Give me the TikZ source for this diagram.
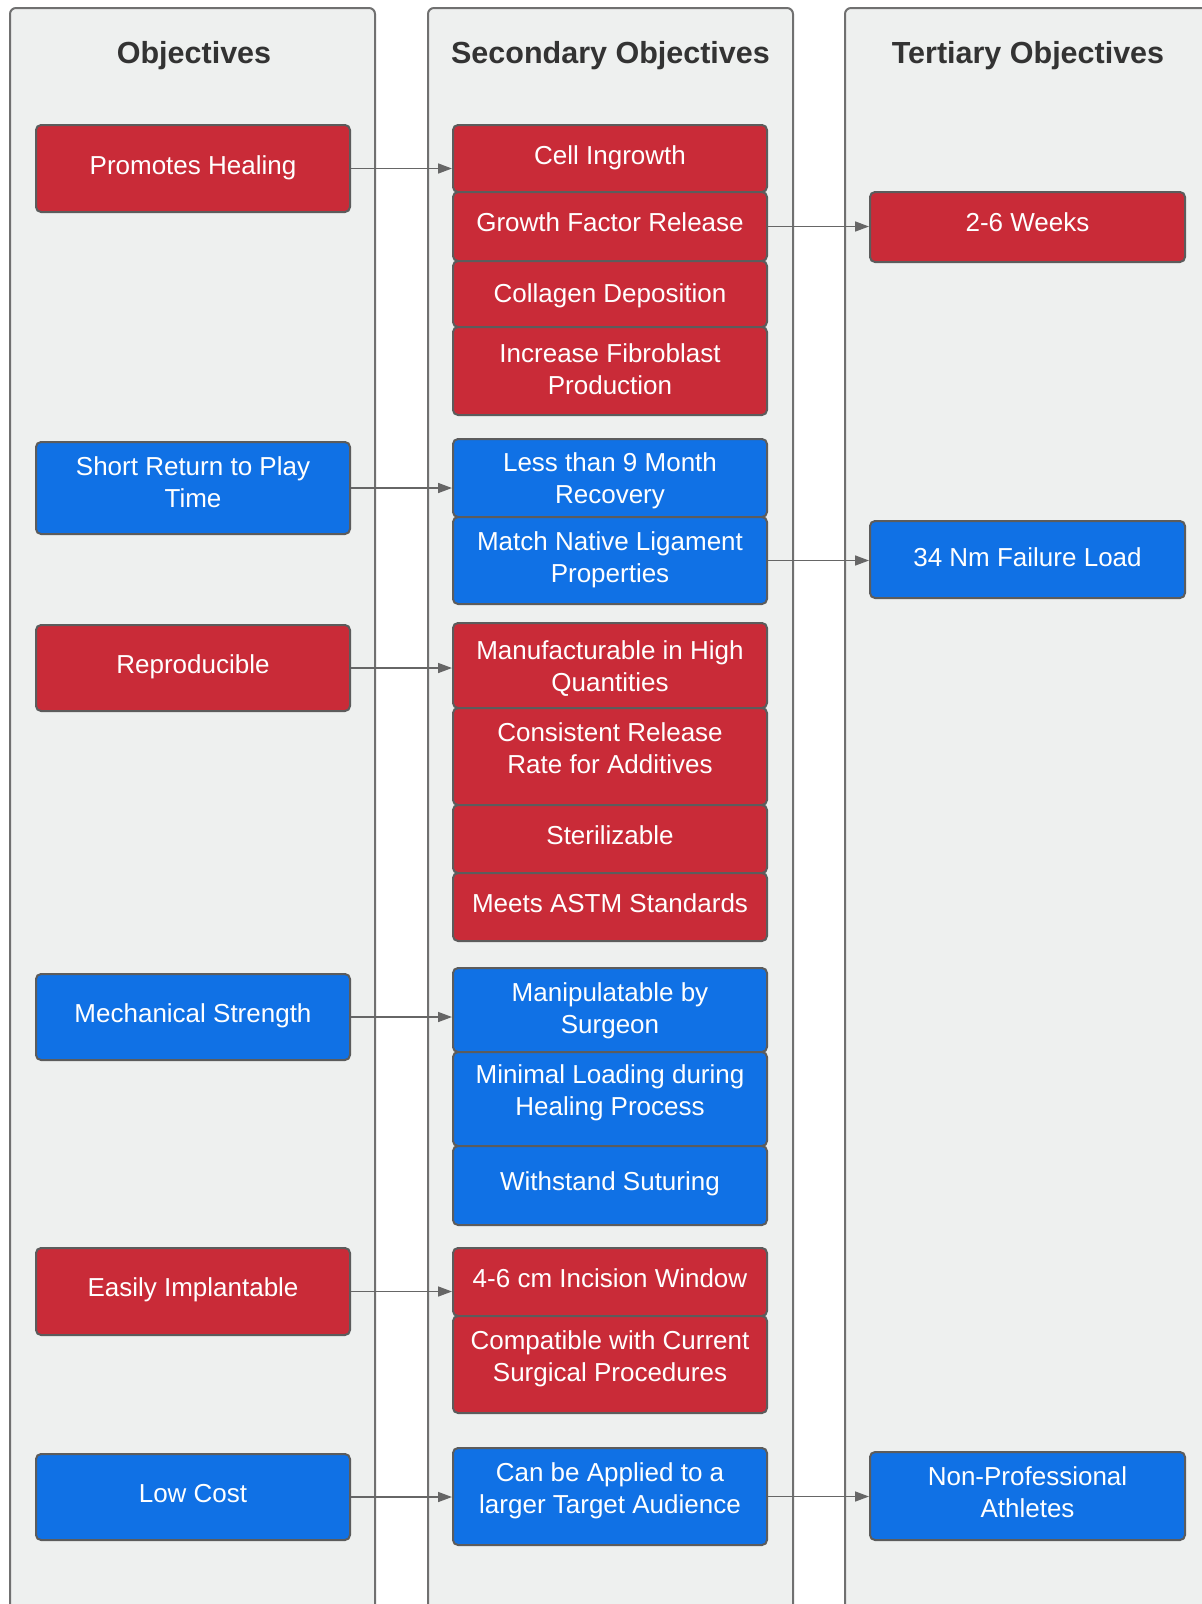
\documentclass[tikz,border=0pt]{standalone}
\usepackage{fontspec}
\setmainfont{Liberation Sans}
\usetikzlibrary{arrows.meta}
\definecolor{boxred}{HTML}{C92B38}
\definecolor{boxblue}{HTML}{1071E5}
\definecolor{lanebg}{HTML}{EEF0EF}
\definecolor{laneline}{HTML}{707070}
\definecolor{boxline}{HTML}{5C5C5C}
\definecolor{titlecol}{HTML}{333333}
\definecolor{arrowcol}{HTML}{666666}
\newlength\tsup
\newlength\tsdn
\newcommand{\topstrut}{\rule[-12pt]{0pt}{\dimexpr34pt+\tsup\relax}}
\newcommand{\botstrut}{\rule[\dimexpr-12pt-\tsdn\relax]{0pt}{\dimexpr34pt+\tsdn\relax}}
\tikzset{
  lane/.style={draw=laneline, line width=2pt, fill=lanebg, rounded corners=6pt},
  lanetitle/.style={text=titlecol, anchor=base, font=\bfseries\fontsize{30.5}{36}\selectfont},
  resetshift/.code={\setlength\tsup{0pt}\setlength\tsdn{0pt}},
  down/.code={\addtolength\tsup{#1}},
  up/.code={\addtolength\tsdn{#1}},
  two/.code={\addtolength\tsup{32pt}},
  basebox/.style={resetshift, draw=boxline, line width=2pt, rounded corners=5pt, text=white,
    minimum width=314pt, inner sep=0pt, align=center,
    font=\fontsize{26}{32}\selectfont,
    execute at begin node=\topstrut, execute at end node=\botstrut},
  redbox/.style={basebox, fill=boxred},
  bluebox/.style={basebox, fill=boxblue},
  conn/.style={draw=arrowcol, line width=1.6pt, -{Triangle[length=14pt,width=10pt]}}
}
\begin{document}
\begin{tikzpicture}[x=1pt,y=-1pt]
\useasboundingbox (0,0) rectangle (1202,1604);
\clip (0,0) rectangle (1202,1604);
% lanes
\draw[lane] (10,8) rectangle (375,1640);
\draw[lane] (428,8) rectangle (793,1640);
\draw[lane] (845,8) rectangle (1230,1640);
\node[lanetitle] (t1) at (194,63) {Objectives};
\node[lanetitle] (t2) at (610.5,63) {Secondary Objectives};
\node[lanetitle] (t3) at (1028,63) {Tertiary Objectives};
% column 1
\node[redbox, minimum height=87pt, down=2pt] (ph) at (193,168.5) {Promotes Healing};
\node[bluebox, minimum height=92pt] (sr) at (193,488) {Short Return to Play\\Time};
\node[redbox, minimum height=86pt] (rep) at (193,668) {Reproducible};
\node[bluebox, minimum height=86pt] (ms) at (193,1017) {Mechanical Strength};
\node[redbox, minimum height=87pt] (ei) at (193,1291.5) {Easily Implantable};
\node[bluebox, minimum height=86pt] (lc) at (193,1497) {Low Cost};
% column 2
\node[redbox, minimum height=67pt, down=2pt] (ci) at (610,158.5) {Cell Ingrowth};
\node[redbox, minimum height=69pt] (gf) at (610,226.5) {Growth Factor Release};
\node[redbox, minimum height=66pt, down=6pt] (cd) at (610,294) {Collagen Deposition};
\node[redbox, minimum height=88pt, two, down=5pt] (fb) at (610,371) {Increase Fibroblast\\Production};
\node[bluebox, minimum height=78pt, two, down=9pt] (lt) at (610,478) {Less than 9 Month\\Recovery};
\node[bluebox, minimum height=87pt, two, down=1pt] (mn) at (610,560.5) {Match Native Ligament\\Properties};
\node[redbox, minimum height=85pt, two, down=9pt] (mf) at (610,665.5) {Manufacturable in High\\Quantities};
\node[redbox, minimum height=97pt, up=4pt] (cr) at (610,756.5) {Consistent Release\\Rate for Additives};
\node[redbox, minimum height=68pt] (st) at (610,839) {Sterilizable};
\node[redbox, minimum height=68pt] (ma) at (610,907) {Meets ASTM Standards};
\node[bluebox, minimum height=84pt, two, down=5pt] (mp) at (610,1010) {Manipulatable by\\Surgeon};
\node[bluebox, minimum height=94pt, up=6pt] (ml) at (610,1099) {Minimal Loading during\\Healing Process};
\node[bluebox, minimum height=79pt] (ws) at (610,1185.5) {Withstand Suturing};
\node[redbox, minimum height=68pt] (ic) at (610,1282) {4-6 cm Incision Window};
\node[redbox, minimum height=97pt, up=4pt] (cs) at (610,1364.5) {Compatible with Current\\Surgical Procedures};
\node[bluebox, minimum height=97pt, up=4pt] (ca) at (610,1496.5) {Can be Applied to a\\larger Target Audience};
% column 3
\node[redbox, minimum height=70pt, minimum width=315pt, up=2pt] (wk) at (1027.5,227) {2-6 Weeks};
\node[bluebox, minimum height=77pt, minimum width=315pt, down=4pt] (nm) at (1027.5,559.5) {34 Nm Failure Load};
\node[bluebox, minimum height=88pt, minimum width=315pt, two, down=1pt] (np) at (1027.5,1496) {Non-Professional\\Athletes};
% connectors
\draw[conn] (ph.east) -- (ph.east -| ci.west);
\draw[conn] (gf.east) -- (gf.east -| wk.west);
\draw[conn] (sr.east) -- (sr.east -| lt.west);
\draw[conn] (mn.east) -- (mn.east -| nm.west);
\draw[conn] (rep.east) -- (rep.east -| mf.west);
\draw[conn] (ms.east) -- (ms.east -| mp.west);
\draw[conn] (ei.east) -- (ei.east -| ic.west);
\draw[conn] (lc.east) -- (lc.east -| ca.west);
\draw[conn] (ca.east) -- (ca.east -| np.west);
\end{tikzpicture}
\end{document}
